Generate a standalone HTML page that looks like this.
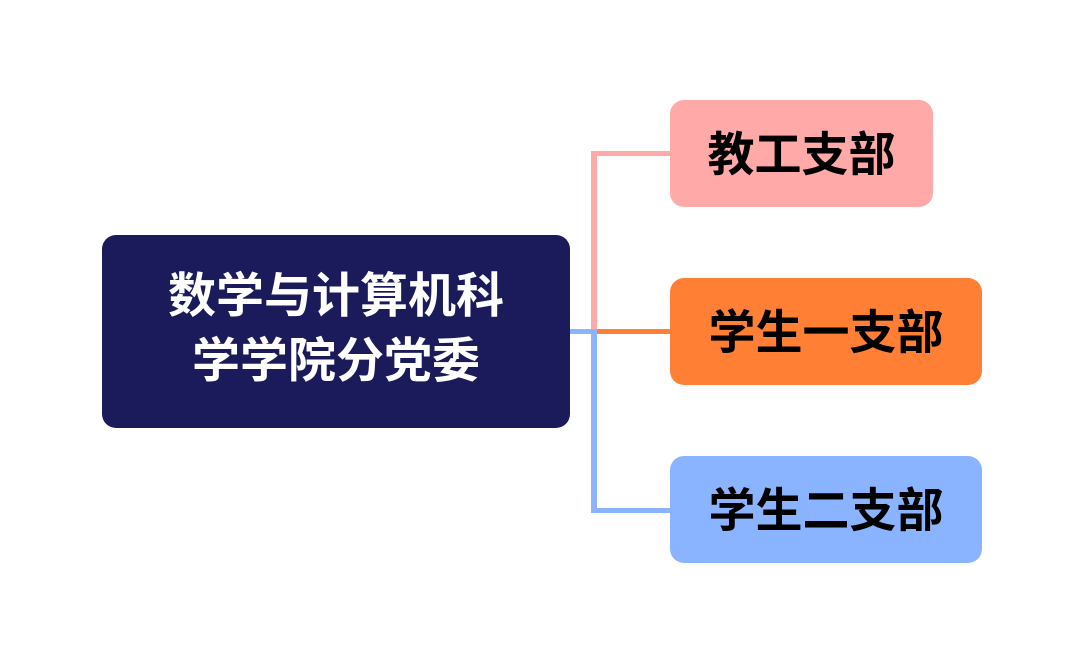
<!DOCTYPE html>
<html><head><meta charset="utf-8"><style>
body{margin:0;width:1084px;height:664px;background:#fff;position:relative;overflow:hidden;font-family:"Liberation Sans","Noto Sans CJK SC",sans-serif;font-weight:bold}
.b{position:absolute;border-radius:14px;display:flex;align-items:center;justify-content:center;text-align:center}
.l{position:absolute}
.t{position:relative;top:-3px}
</style></head><body>
<div class="l" style="left:591px;top:151px;width:6px;height:182px;background:#ffa9a8"></div>
<div class="l" style="left:591px;top:151px;width:80px;height:5px;background:#ffa9a8"></div>
<div class="l" style="left:597px;top:329px;width:74px;height:5px;background:#ff7f35"></div>
<div class="l" style="left:568px;top:329px;width:29px;height:5px;background:#8ab4ff"></div>
<div class="l" style="left:591px;top:329px;width:6px;height:184px;background:#8ab4ff"></div>
<div class="l" style="left:591px;top:508px;width:80px;height:5px;background:#8ab4ff"></div>
<div class="b" style="left:102px;top:235px;width:468px;height:193px;background:#1b1a5a;color:#fff;font-size:48px;line-height:65px"><span class="t">数学与计算机科<br>学学院分党委</span></div>
<div class="b" style="left:670px;top:100px;width:263px;height:107px;background:#ffa9a8;color:#000;font-size:47px"><span class="t">教工支部</span></div>
<div class="b" style="left:670px;top:278px;width:312px;height:107px;background:#ff7f35;color:#000;font-size:47px"><span class="t">学生一支部</span></div>
<div class="b" style="left:670px;top:456px;width:312px;height:107px;background:#8ab4ff;color:#000;font-size:47px"><span class="t">学生二支部</span></div>
</body></html>
